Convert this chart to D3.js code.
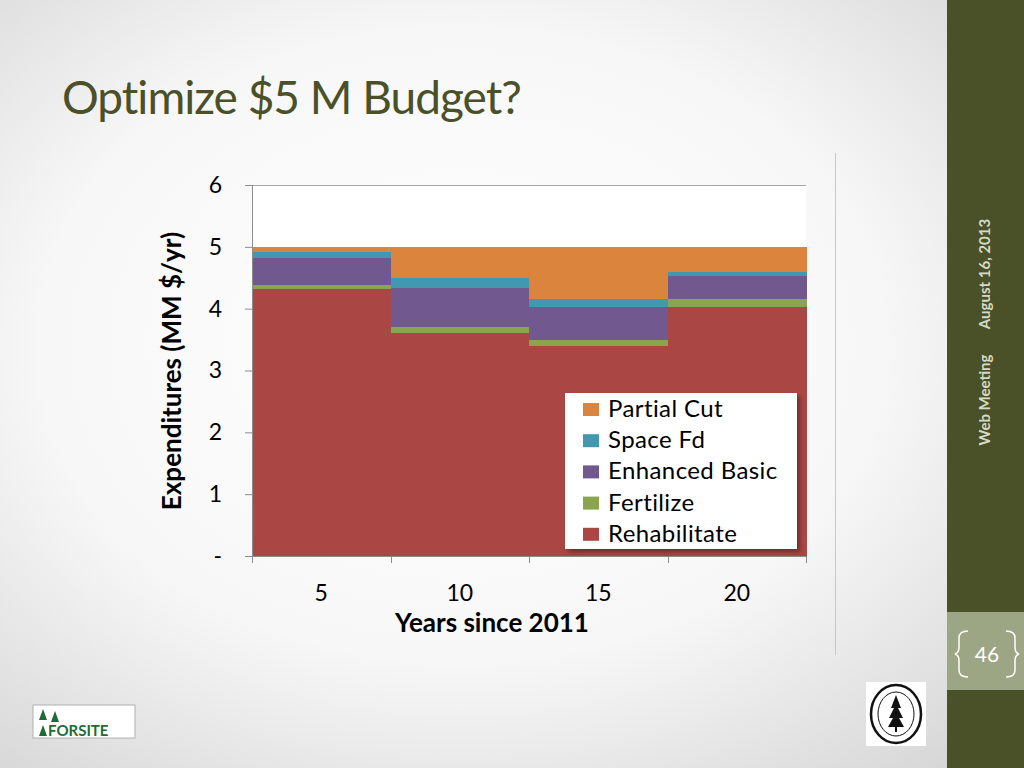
<!DOCTYPE html>
<html lang="en">
<head>
	<meta charset="UTF-8"/>
	<title>Optimize $5 M Budget?</title>
	<script src="https://d3js.org/d3.v7.min.js"></script>
	<style>
		body { margin: 0; overflow: hidden; }
		text { font-family: Lato, "Open Sans", sans-serif; }
	</style>
</head>
<body>
	<script>
	var w = 1024;
	var h = 768;

	// chart data (MM $/yr)
	var years = [5, 10, 15, 20];
	var rehabilitate = [4.31, 3.61, 3.39, 4.03];
	var fertilize = [0.08, 0.10, 0.11, 0.13];
	var enhancedBasic = [0.43, 0.62, 0.53, 0.37];
	var spaceFd = [0.09, 0.16, 0.13, 0.06];
	var partialCut = [0.09, 0.51, 0.84, 0.41];
	var yTicks = [0, 1, 2, 3, 4, 5, 6];

	var keys = ["Rehabilitate", "Fertilize", "Enhanced Basic", "Space Fd", "Partial Cut"];
	var colors = ["#aa4643", "#89a54e", "#71588f", "#4198af", "#db843d"];

	var rows = years.map(function (y, i) {
		return {
			year: y,
			"Rehabilitate": rehabilitate[i],
			"Fertilize": fertilize[i],
			"Enhanced Basic": enhancedBasic[i],
			"Space Fd": spaceFd[i],
			"Partial Cut": partialCut[i]
		};
	});

	var svg = d3.select("body")
		.append("svg")
		.attr("width", w)
		.attr("height", h);

	// slide background
	var defs = svg.append("defs");
	var bg = defs.append("radialGradient")
		.attr("id", "bg")
		.attr("cx", "45%").attr("cy", "45%").attr("r", "75%");
	bg.append("stop").attr("offset", "0%").attr("stop-color", "#ffffff");
	bg.append("stop").attr("offset", "55%").attr("stop-color", "#f7f7f7");
	bg.append("stop").attr("offset", "100%").attr("stop-color", "#d4d4d4");

	var shadow = defs.append("filter").attr("id", "shadow")
		.attr("x", "-10%").attr("y", "-10%").attr("width", "130%").attr("height", "130%");
	shadow.append("feDropShadow")
		.attr("dx", 3).attr("dy", 3).attr("stdDeviation", 2)
		.attr("flood-color", "#000").attr("flood-opacity", 0.35);

	svg.append("rect").attr("width", w).attr("height", h).attr("fill", "url(#bg)");

	// right side panel
	svg.append("rect").attr("x", 947).attr("y", 0).attr("width", 77).attr("height", h).attr("fill", "#4a5027");
	svg.append("rect").attr("x", 947).attr("y", 612).attr("width", 77).attr("height", 78).attr("fill", "#9ca584");

	svg.append("text")
		.attr("transform", "translate(990,274) rotate(-90)")
		.attr("text-anchor", "middle")
		.attr("font-size", "15px")
		.attr("font-weight", "bold")
		.attr("fill", "#d5dac4")
		.text("August 16, 2013");
	svg.append("text")
		.attr("transform", "translate(990,400) rotate(-90)")
		.attr("text-anchor", "middle")
		.attr("font-size", "15px")
		.attr("font-weight", "bold")
		.attr("fill", "#d5dac4")
		.text("Web Meeting");

	// page number with brackets
	svg.append("path")
		.attr("d", "M968,631 Q959,631 959,638 L959,647 Q959,653 955,654 Q959,655 959,661 L959,670 Q959,677 968,677")
		.attr("fill", "none").attr("stroke", "#fff").attr("stroke-width", 1.5);
	svg.append("path")
		.attr("d", "M1006,631 Q1015,631 1015,638 L1015,647 Q1015,653 1019,654 Q1015,655 1015,661 L1015,670 Q1015,677 1006,677")
		.attr("fill", "none").attr("stroke", "#fff").attr("stroke-width", 1.5);
	svg.append("text")
		.attr("x", 987).attr("y", 662)
		.attr("text-anchor", "middle")
		.attr("font-size", "21px")
		.attr("fill", "#fff")
		.text("46");

	// title
	svg.append("text")
		.attr("x", 62).attr("y", 114)
		.attr("font-size", "46px")
		.attr("fill", "#4a5027")
		.attr("letter-spacing", "-1px")
		.text("Optimize $5 M Budget?");

	// chart frame edge
	svg.append("line")
		.attr("x1", 835.5).attr("x2", 835.5).attr("y1", 153).attr("y2", 655)
		.attr("stroke", "#c8c8c8");

	// plot
	var plotLeft = 252, plotRight = 806, plotTop = 185, plotBottom = 556;

	var xScale = d3.scaleBand()
		.domain(years)
		.range([plotLeft, plotRight])
		.padding(0);

	var yScale = d3.scaleLinear()
		.domain([0, 6])
		.range([plotBottom, plotTop]);

	svg.append("rect")
		.attr("x", plotLeft).attr("y", plotTop)
		.attr("width", plotRight - plotLeft).attr("height", plotBottom - plotTop)
		.attr("fill", "#fff");

	svg.append("g")
		.selectAll("line")
		.data(yTicks.slice(1))
		.enter()
		.append("line")
		.attr("x1", plotLeft).attr("x2", plotRight)
		.attr("y1", function (d) { return Math.round(yScale(d)) + 0.5; })
		.attr("y2", function (d) { return Math.round(yScale(d)) + 0.5; })
		.attr("stroke", "#a6a6a6");

	var stack = d3.stack().keys(keys);
	var layers = stack(rows);

	svg.append("g")
		.selectAll("g")
		.data(layers)
		.enter()
		.append("g")
		.attr("fill", function (d, i) { return colors[i]; })
		.selectAll("rect")
		.data(function (d) { return d; })
		.enter()
		.append("rect")
		.attr("shape-rendering", "crispEdges")
		.attr("x", function (d) { return xScale(d.data.year); })
		.attr("width", xScale.bandwidth() + 0.5)
		.attr("y", function (d) { return yScale(d[1]); })
		.attr("height", function (d) { return yScale(d[0]) - yScale(d[1]); });

	// y axis
	var yAxis = d3.axisLeft(yScale)
		.tickValues(yTicks)
		.tickSize(7)
		.tickPadding(23)
		.tickFormat(function (d) { return d === 0 ? "-" : d; });
	var gy = svg.append("g")
		.attr("transform", "translate(" + plotLeft + ",0)")
		.call(yAxis);
	gy.select(".domain").attr("stroke", "#8c8c8c");
	gy.selectAll(".tick line").attr("stroke", "#8c8c8c");
	gy.selectAll(".tick text")
		.attr("font-family", "Lato, sans-serif")
		.attr("font-size", "23px")
		.attr("fill", "#000");

	// x axis: labels at band centres, tick marks at band edges
	var xAxis = d3.axisBottom(xScale).tickSize(0).tickPadding(29);
	var gx = svg.append("g")
		.attr("transform", "translate(0," + plotBottom + ")")
		.call(xAxis);
	gx.select(".domain").remove();
	gx.selectAll(".tick text")
		.attr("font-family", "Lato, sans-serif")
		.attr("font-size", "23px")
		.attr("fill", "#000");

	var edges = years.map(function (y) { return xScale(y); }).concat([plotRight]);
	svg.append("line")
		.attr("x1", plotLeft).attr("x2", plotRight)
		.attr("y1", plotBottom + 0.5).attr("y2", plotBottom + 0.5)
		.attr("stroke", "#8c8c8c");
	svg.append("g")
		.selectAll("line")
		.data(edges)
		.enter()
		.append("line")
		.attr("x1", function (d) { return Math.round(d) + 0.5; })
		.attr("x2", function (d) { return Math.round(d) + 0.5; })
		.attr("y1", plotBottom).attr("y2", plotBottom + 7)
		.attr("stroke", "#8c8c8c");

	// axis titles
	svg.append("text")
		.attr("x", 492).attr("y", 632)
		.attr("text-anchor", "middle")
		.attr("font-size", "26px")
		.attr("font-weight", "bold")
		.text("Years since 2011");
	svg.append("text")
		.attr("transform", "translate(181,371) rotate(-90)")
		.attr("text-anchor", "middle")
		.attr("font-size", "26px")
		.attr("font-weight", "bold")
		.text("Expenditures (MM $/yr)");

	// legend
	var legend = svg.append("g").attr("transform", "translate(565,393)");
	legend.append("rect")
		.attr("width", 232).attr("height", 156)
		.attr("fill", "#fff")
		.attr("filter", "url(#shadow)");
	var legendKeys = keys.slice().reverse();
	var legendColors = colors.slice().reverse();
	var item = legend.selectAll(".item")
		.data(legendKeys)
		.enter()
		.append("g")
		.attr("transform", function (d, i) { return "translate(18," + (i * 31.2) + ")"; });
	item.append("rect")
		.attr("y", 10)
		.attr("width", 16).attr("height", 13)
		.attr("fill", function (d, i) { return legendColors[i]; });
	item.append("text")
		.attr("x", 25).attr("y", 24)
		.attr("font-size", "24px")
		.attr("letter-spacing", "0.4px")
		.attr("fill", "#000")
		.text(function (d) { return d; });

	// FORSITE logo
	var logo = svg.append("g").attr("transform", "translate(33,705)");
	logo.append("rect").attr("width", 102).attr("height", 33).attr("fill", "#fff").attr("stroke", "#b0b0b0");
	[[6, 4], [18, 6], [6, 20]].forEach(function (p) {
		logo.append("path")
			.attr("d", "M" + p[0] + "," + (p[1] + 11) + " L" + (p[0] + 4) + "," + p[1] + " L" + (p[0] + 8) + "," + (p[1] + 11) + " Z")
			.attr("fill", "#1f6b35");
	});
	logo.append("text")
		.attr("x", 15).attr("y", 31)
		.attr("font-family", "'DejaVu Sans', sans-serif")
		.attr("font-size", "15px")
		.attr("font-weight", "bold")
		.attr("fill", "#1f6b35")
		.text("FORSITE");

	// Forest Service seal
	var seal = svg.append("g").attr("transform", "translate(896,714)");
	seal.append("rect").attr("x", -30).attr("y", -32).attr("width", 60).attr("height", 64).attr("fill", "#fff");
	seal.append("ellipse").attr("rx", 25).attr("ry", 29).attr("fill", "none").attr("stroke", "#111").attr("stroke-width", 2.5);
	seal.append("ellipse").attr("rx", 18).attr("ry", 22).attr("fill", "none").attr("stroke", "#111").attr("stroke-width", 1);
	seal.append("path").attr("d", "M0,-19 L-5,-6 L-2,-6 L-7,4 L-3,4 L-8,13 L8,13 L3,4 L7,4 L2,-6 L5,-6 Z").attr("fill", "#111");
	seal.append("rect").attr("x", -1).attr("y", 13).attr("width", 2).attr("height", 5).attr("fill", "#111");
	</script>
</body>
</html>
